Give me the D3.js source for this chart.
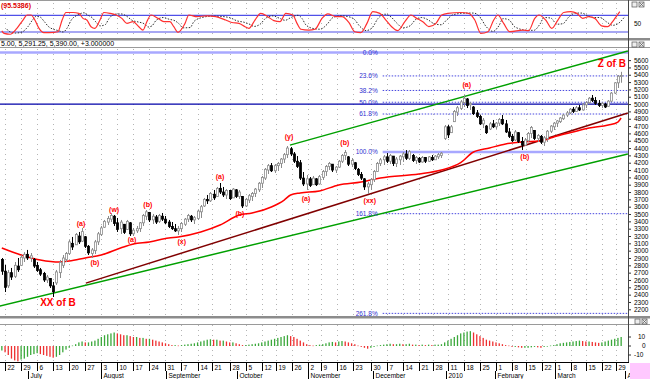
<!DOCTYPE html>
<html><head><meta charset="utf-8">
<script src="https://cdn.jsdelivr.net/npm/d3@7"></script>
<style>body{margin:0;background:#fff}svg{display:block}text{font-family:"Liberation Sans",Arial,sans-serif}</style>
</head><body><svg id="c" width="650" height="379"></svg>
<script>
// ---------------- DATA ----------------
const opens  = [2880,2720,2520,2700,2650,2790,2800,2900,2950,2900,2880,2800,2740,2690,2600,2620,2520,2560,2700,2800,2880,2960,3100,3080,3200,3130,3190,3060,2960,3000,3120,3220,3320,3390,3430,3470,3380,3300,3360,3290,3380,3230,3270,3300,3380,3470,3520,3420,3460,3400,3470,3430,3390,3330,3300,3270,3300,3360,3430,3470,3420,3440,3530,3610,3700,3680,3770,3740,3850,3800,3760,3820,3720,3830,3740,3740,3610,3690,3740,3780,3830,3920,3990,4100,4160,4090,4160,4190,4250,4310,4390,4320,4220,4200,3990,3910,3980,3900,3980,3910,4000,4080,4150,4180,4100,4140,4220,4300,4280,4180,4200,4110,4040,3980,3870,3900,3970,4080,4190,4240,4280,4220,4290,4190,4240,4280,4320,4260,4300,4230,4260,4210,4270,4220,4270,4240,4280,4300,4530,4690,4610,4760,4890,4940,5020,5070,4990,4960,4880,4830,4730,4700,4660,4730,4690,4740,4790,4730,4620,4560,4510,4610,4490,4440,4500,4600,4640,4530,4560,4480,4530,4630,4690,4740,4760,4800,4850,4880,4930,4900,4950,4920,4990,5020,5080,5050,5010,4980,5000,4970,5040,5150,5290,5380];
const highs  = [2900,2805,2737,2764,2845,2900,2940,2980,3010,2968,2900,2845,2764,2710,2668,2627,2573,2737,2873,2941,2982,3146,3187,3241,3255,3309,3200,3077,3036,3146,3255,3337,3419,3473,3514,3487,3446,3419,3364,3419,3391,3309,3337,3391,3501,3555,3528,3501,3487,3501,3514,3473,3419,3391,3364,3337,3391,3446,3501,3487,3473,3555,3623,3719,3760,3800,3828,3869,3923,3869,3841,3828,3855,3841,3828,3746,3719,3773,3800,3855,3937,4019,4128,4182,4196,4182,4210,4264,4332,4428,4414,4346,4291,4237,4073,4032,4005,4019,3991,4032,4100,4169,4210,4182,4155,4237,4319,4373,4291,4264,4210,4128,4073,3991,3937,3991,4100,4210,4264,4305,4332,4319,4291,4278,4305,4346,4373,4373,4319,4291,4278,4291,4278,4291,4305,4305,4332,4346,4714,4714,4714,4919,4974,5055,5124,5083,5028,4974,4919,4851,4810,4714,4755,4783,4755,4810,4851,4783,4673,4592,4646,4619,4551,4537,4619,4701,4646,4592,4578,4564,4646,4714,4755,4783,4823,4864,4905,4946,4960,4974,4987,5014,5042,5096,5124,5096,5055,5028,5014,5055,5164,5301,5396,5440];
const lows   = [2670,2436,2491,2600,2627,2710,2790,2845,2873,2845,2764,2710,2655,2573,2559,2491,2368,2532,2627,2764,2845,2941,3009,3077,3091,3118,3036,2941,2900,2954,3077,3200,3309,3350,3391,3337,3255,3228,3228,3282,3200,3200,3241,3255,3337,3419,3391,3364,3364,3378,3405,3364,3309,3282,3255,3214,3255,3337,3391,3391,3364,3419,3446,3596,3637,3664,3691,3732,3773,3732,3705,3691,3719,3719,3705,3582,3596,3650,3678,3732,3800,3855,3964,4046,4073,4060,4087,4128,4196,4264,4291,4196,4128,3964,3882,3828,3869,3896,3882,3900,3964,4019,4100,4073,4060,4128,4196,4237,4155,4141,4100,4019,3964,3828,3773,3828,3937,4073,4155,4169,4196,4182,4155,4141,4169,4210,4237,4237,4210,4182,4196,4200,4196,4210,4223,4237,4250,4264,4510,4537,4605,4755,4837,4919,4960,4946,4919,4851,4810,4714,4673,4592,4646,4673,4660,4701,4714,4605,4537,4483,4496,4469,4373,4428,4483,4537,4510,4483,4455,4428,4483,4605,4646,4687,4742,4783,4823,4864,4878,4892,4905,4910,4946,5000,5028,4990,4960,4946,4946,4960,5028,5137,5219,5291];
const closes = [2720,2500,2700,2640,2800,2740,2910,2950,2900,2930,2790,2730,2680,2600,2640,2520,2440,2710,2840,2900,2960,3120,3050,3220,3120,3260,3060,2970,3010,3120,3230,3310,3400,3440,3480,3370,3290,3390,3250,3400,3230,3280,3300,3380,3480,3530,3420,3470,3390,3480,3430,3380,3330,3300,3270,3300,3370,3430,3480,3420,3450,3540,3600,3700,3680,3780,3720,3850,3800,3760,3820,3710,3840,3740,3800,3610,3700,3750,3780,3840,3920,4000,4110,4160,4090,4160,4190,4250,4310,4400,4320,4220,4150,3990,3910,3980,3890,3990,3900,4010,4080,4150,4190,4100,4140,4220,4300,4340,4180,4230,4120,4040,3990,3870,3910,3970,4080,4190,4240,4280,4220,4300,4190,4250,4290,4320,4260,4350,4230,4270,4210,4270,4220,4280,4240,4290,4310,4330,4690,4580,4690,4900,4950,5030,5080,4980,5010,4870,4830,4730,4780,4610,4730,4690,4740,4790,4730,4620,4560,4500,4620,4490,4440,4510,4600,4680,4530,4570,4480,4540,4630,4700,4740,4770,4810,4850,4880,4930,4900,4950,4920,4990,5020,5080,5050,5010,4980,5010,4960,5040,5150,5290,5380,5390];

const maIdx = [0,6,12,18,21,26,31,37,41,46,52,55,62,68,74,78,84,88,90,93,99,105,112,115,118,130,137,143,147,152,157,162,168,171,173,178,183,189,192,193];
const maVal = [3036,2941,2873,2845,2859,2900,2941,3036,3091,3118,3173,3187,3255,3350,3487,3514,3596,3691,3760,3787,3814,3896,3937,3964,3991,4046,4100,4200,4346,4401,4455,4483,4496,4537,4564,4619,4673,4714,4755,4810];

const macdHist = [-5,-7,-10,-14,-16,-17,-15,-14,-12,-10,-9,-8,-9,-10,-11,-12,-13,-12,-10,-7,-4,-2,0.5,2,4,5,4,4,5,6,8,10,12,13,14,15,14,13,12,12,11,10,10,9,9,8,8,7,6,5,4,3,2,1,1,0.5,1,1.5,2,2.5,3,4,5,6,7,7.5,7,7,6,6,5,4,4,3,2,1,1,1.5,2,2.5,3,4,5,6,7,8,9,10,11,12,11,10,8,6,4,2,1,0.5,1,1.5,2,3,4,4.5,4,5,5.5,5,4,3,2,0.5,-1,-2,-3,-2,-1,0.5,1,1.5,2,2.5,2,2,2.5,2,2,2.5,1.5,1.5,1,1.5,1,1.5,1,1.5,1.5,2,4,6,8,10,12,14,15,16,16.5,15,13,11,9,7,6,5,4,3,2,1,0.5,-1,-1,-1.5,-2,-2,-2,-1.5,-1,-1.5,-2,-1,-0.5,0.5,1,2,3,3.5,4,4.5,5,5.5,6,5.5,5,5,4.5,4,3.5,4,5,6,7,8,9,10];

const stochIdx = [0,0.7,2.6,4.7,6.6,7.9,9.1,10.3,11.6,13.1,16.3,17.5,18.8,20,22.2,24,25.3,26.5,27.8,29,30.6,31.8,33.7,35.6,37.4,39,40.9,42.7,44,45.2,46.5,48.7,50.5,52.4,53.6,54.9,57.1,58.3,60.8,63.9,66.7,69.8,71.7,73.9,75.8,77,78.9,80.7,82.9,84.8,86.7,88.5,90.7,92,93.2,95.7,97.6,99.8,101.6,104.1,106,108.2,110,111.9,113.8,115.6,117.8,119.7,121.5,123.4,125.6,127.5,129.3,131.2,133.1,135.3,137.1,139,143,145.5,147.4,149.3,151.5,153.3,154.6,156.4,158.3,162.4,164.2,166.1,167.4,169.5,171.4,173.3,175.1,177.3,179.2,181,182.9,184.8,186.9,188.8,190.7,192.6];
const stochK = [24,15,12,33,63,81,81,63,33,18,19,21,63,90,90,87,69,63,39,33,63,90,87,81,69,51,57,39,27,57,81,69,57,57,39,19,51,81,75,78,75,63,54,51,39,33,63,87,75,61,57,87,81,51,30,27,30,69,85,75,75,54,21,18,51,93,87,63,39,25,57,81,69,57,39,51,81,87,90,87,63,15,21,63,81,51,21,27,25,69,81,63,33,63,90,93,87,69,75,69,42,39,63,93];
const stochD = [30,22,16,20,40,62,76,74,58,38,24,20,35,62,82,89,80,72,55,42,46,68,84,85,76,62,56,50,38,42,62,72,66,60,50,35,36,58,72,77,76,70,60,55,47,40,48,70,78,70,62,72,80,68,45,32,30,48,72,78,76,66,40,25,35,68,84,74,52,35,42,66,72,64,50,46,64,82,88,88,74,40,22,42,68,64,38,26,26,48,72,70,48,50,74,88,88,78,72,72,56,44,52,76];

const priceTicks = [2200,2300,2400,2500,2600,2700,2800,2900,3000,3100,3200,3300,3400,3500,3600,3700,3800,3900,4000,4100,4200,4300,4400,4500,4600,4700,4800,4900,5000,5100,5200,5300,5400,5500,5600];
const dateTickIdx = [1,6,11,16,21,26,31,36,41,46,51,56,61,65.5,71,76,81,85.5,90.5,95.5,99.5,104.5,109.5,115,120,125,130,134.5,139,144,149,154,159,163.5,168.5,172.5,177.5,182,187,191.5];
const dateTickLbl = ["22","29","6","13","20","27","3","10","17","24","31","7","14","21","28","5","12","19","26","2","9","16","23","30","7","14","21","28","11","18","25","1","8","15","22","1","8","15","22","29"];
const monthIdx = [8.2,30.9,51.1,73.3,95.4,115.6,138.5,153.6,172.3,194.1];
const monthLbl = ["July","August","September","October","November","December","2010","February","March","A"];

const fibPct = [0,23.6,38.2,50,61.8,100,161.8,261.8];
const fibLbl = ["0.0%","23.6%","38.2%","50.0%","61.8%","100.0%","161.8%","261.8%"];
const fibTop = 5705, fibBottom = 4345, fibStartIdx = 118.7;

const trendX1 = [89.8,-0.6,26.2], trendP1 = [4440,2245,2557];
const trendX2 = [195.1,195.1,195.1], trendP2 = [5725,4318,4878];
const trendColor = ["#00a000","#00a000","#800000"];
const hLevel = 5000;

const waveText = ["XX of B","(a)","(b)","(w)","(a)","(b)","(x)","(a)","(b)","(y)","(a)","(b)","(xx)","(a)","(b)","Z of B"];
const waveIdx  = [17.5,24.7,29,35,40.6,45.5,56.1,68,74.2,89.5,94.8,106.9,114.7,144.9,163,190.1];
const wavePrice= [2287,3364,2832,3555,3146,3623,3118,4005,3501,4551,3705,4469,3678,5260,4278,5560];

// ---------------- LAYOUT ----------------
const svg = d3.select("#c");
const AX = 628;
const P1 = {t:1, b:38}, P2 = {t:48, b:316}, P3 = {t:325, b:362};
const x  = d3.scaleLinear().domain([0,193]).range([1.8,621.1]);
const y  = d3.scaleLinear().domain([2200,5600]).range([309.3,60.1]);
const ys = d3.scaleLinear().domain([20,80]).range([32,15.3]);
const ym = d3.scaleLinear().domain([-10,10]).range([355,337]);

svg.append("rect").attr("width",650).attr("height",379).attr("fill","#fff");

const defs = svg.append("defs");
defs.append("clipPath").attr("id","cm").append("rect").attr("x",0).attr("y",P2.t).attr("width",AX).attr("height",P2.b-P2.t);
defs.append("clipPath").attr("id","cs").append("rect").attr("x",0).attr("y",P1.t).attr("width",AX).attr("height",P1.b-P1.t);

// vertical dotted gridlines
const grid = svg.append("g").attr("stroke","#b4b4b4").attr("stroke-dasharray","1,4");
[[P1.t+2,P1.b],[P2.t+1,P2.b],[P3.t,P3.b]].forEach(([a,b])=>{
  grid.selectAll(null).data(dateTickIdx).join("line")
    .attr("x1",d=>Math.round(x(d))+0.5).attr("x2",d=>Math.round(x(d))+0.5)
    .attr("y1",a).attr("y2",b);
});

// panel separators
const sep = svg.append("g");
sep.append("rect").attr("x",0).attr("y",38).attr("width",650).attr("height",2.5).attr("fill","#8c8c8c");
sep.append("line").attr("x1",0).attr("x2",650).attr("y1",47.5).attr("y2",47.5).attr("stroke","#9a9a9a");
sep.append("rect").attr("x",0).attr("y",316).attr("width",650).attr("height",2.5).attr("fill","#8c8c8c");
sep.append("line").attr("x1",0).attr("x2",650).attr("y1",324.5).attr("y2",324.5).attr("stroke","#9a9a9a");
sep.append("line").attr("x1",0).attr("x2",650).attr("y1",0.5).attr("y2",0.5).attr("stroke","#9a9a9a");

// ---------- stochastic panel ----------
const sp = svg.append("g").attr("clip-path","url(#cs)");
[80,20].forEach(v=>sp.append("line").attr("x1",0).attr("x2",AX).attr("y1",ys(v)).attr("y2",ys(v)).attr("stroke","#5050e8").attr("stroke-width",1.2));
sp.append("path").datum(stochIdx.map((d,i)=>[d,stochD[i]]))
  .attr("d",d3.line().x(d=>x(d[0]+1.6)).y(d=>ys(d[1])).curve(d3.curveMonotoneX))
  .attr("fill","none").attr("stroke","#303030").attr("stroke-width",1).attr("stroke-dasharray","1.5,1.5");
sp.append("path").datum(stochIdx.map((d,i)=>[d,stochK[i]]))
  .attr("d",d3.line().x(d=>x(d[0])).y(d=>ys(d[1])).curve(d3.curveMonotoneX))
  .attr("fill","none").attr("stroke","#ff3030").attr("stroke-width",1.2);
svg.append("text").attr("x",1).attr("y",8).attr("font-size",7).attr("font-weight","bold").attr("fill","#e00000").text("(95.5386)");
svg.append("text").attr("x",634).attr("y",ys(50)+2.5).attr("font-size",6.5).text("50");

// ---------- main header ----------
svg.append("text").attr("x",1).attr("y",46).attr("font-size",7).attr("fill","#000").text("5.00, 5,291.25, 5,390.00, +3.000000");

// ---------- main panel ----------
const mp = svg.append("g").attr("clip-path","url(#cm)");
// fib levels
fibPct.forEach((p,i)=>{
  const v = fibTop - p/100*(fibTop-fibBottom);
  const solid = (p===0||p===100);
  mp.append("line").attr("x1",p===0?0:x(fibStartIdx)).attr("x2",AX)
    .attr("y1",y(v)).attr("y2",y(v))
    .attr("stroke",solid?"#a8a8ff":"#4848e0").attr("stroke-width",solid?2.5:1)
    .attr("stroke-dasharray",solid?null:"1.5,1.5");
  svg.append("text").attr("x",x(fibStartIdx)-5).attr("y",y(v)+2.3).attr("text-anchor","end")
    .attr("font-size",6.5).attr("fill","#3030d0").text(fibLbl[i]);
});
// 5000 level
mp.append("line").attr("x1",0).attr("x2",AX).attr("y1",y(hLevel)).attr("y2",y(hLevel)).attr("stroke","#0000a8").attr("stroke-width",1.2);
// trend lines
trendX1.forEach((d,i)=>{
  mp.append("line").attr("x1",x(d)).attr("y1",y(trendP1[i])).attr("x2",x(trendX2[i])).attr("y2",y(trendP2[i]))
    .attr("stroke",trendColor[i]).attr("stroke-width",1.5);
});
// moving average
mp.append("path").datum(maIdx.map((d,i)=>[d,maVal[i]]))
  .attr("d",d3.line().x(d=>x(d[0])).y(d=>y(d[1])).curve(d3.curveMonotoneX))
  .attr("fill","none").attr("stroke","#ff0000").attr("stroke-width",1.5);
// candles
const bars = d3.range(opens.length);
const cg = mp.append("g");
cg.selectAll("line").data(bars).join("line")
  .attr("x1",i=>Math.round(x(i))+0.5).attr("x2",i=>Math.round(x(i))+0.5)
  .attr("y1",i=>y(highs[i])).attr("y2",i=>y(lows[i]))
  .attr("stroke",i=>closes[i]>=opens[i]?"#8a8a8a":"#000").attr("stroke-width",1);
cg.selectAll("rect").data(bars).join("rect")
  .attr("x",i=>Math.round(x(i))-0.5).attr("width",2)
  .attr("y",i=>y(Math.max(opens[i],closes[i])))
  .attr("height",i=>Math.max(1,Math.abs(y(opens[i])-y(closes[i]))))
  .attr("fill",i=>closes[i]>=opens[i]?"#fff":"#000")
  .attr("stroke",i=>closes[i]>=opens[i]?"#8a8a8a":"#000").attr("stroke-width",0.8);
// wave labels
waveText.forEach((t,i)=>{
  const big = t.length>4;
  svg.append("text").attr("x",x(waveIdx[i])).attr("y",y(wavePrice[i])).attr("dy","0.35em")
    .attr("text-anchor","middle").attr("font-size",big?10:7).attr("font-weight","bold")
    .attr("fill","#ff0000").text(t);
});

// right axis (main)
const ra = svg.append("g").attr("transform",`translate(${AX},0)`)
  .call(d3.axisRight(y).tickValues(priceTicks).tickSize(3).tickPadding(3).tickFormat(d3.format("d")));
ra.select(".domain").remove();
ra.selectAll("text").attr("font-size",6.5).attr("font-family","Liberation Sans, Arial, sans-serif");
ra.selectAll("line").attr("stroke","#333");
svg.append("line").attr("x1",AX+0.5).attr("x2",AX+0.5).attr("y1",0).attr("y2",362).attr("stroke","#444");

// ---------- MACD histogram ----------
const hp = svg.append("g");
hp.selectAll("rect").data(bars).join("rect")
  .attr("x",i=>x(i)-0.6).attr("width",1.3)
  .attr("y",i=>Math.min(ym(0),ym(macdHist[i])))
  .attr("height",i=>Math.max(0.6,Math.abs(ym(macdHist[i])-ym(0))))
  .attr("fill",i=>(i===0||macdHist[i]>=macdHist[i-1])?"#3aa83a":"#ee3030");
[10,0,-10].forEach(v=>{
  svg.append("text").attr("x",v<0?634:(v===0?642:638)).attr("y",ym(v)+2.3).attr("font-size",6.5).text(v);
  svg.append("line").attr("x1",AX).attr("x2",AX+3).attr("y1",ym(v)).attr("y2",ym(v)).attr("stroke","#333");
});

// ---------- date axis ----------
const da = svg.append("g");
da.append("line").attr("x1",0).attr("x2",AX+1).attr("y1",362.5).attr("y2",362.5).attr("stroke","#000");
dateTickIdx.forEach((d,i)=>{
  const xx = Math.round(x(d))+0.5;
  da.append("line").attr("x1",xx).attr("x2",xx).attr("y1",362).attr("y2",371).attr("stroke","#000");
  da.append("text").attr("x",xx+2).attr("y",369.5).attr("font-size",6.5).text(dateTickLbl[i]);
});
monthIdx.forEach((d,i)=>{
  const xx = Math.round(x(d))+0.5;
  da.append("line").attr("x1",xx).attr("x2",xx).attr("y1",371).attr("y2",379).attr("stroke","#000");
  da.append("text").attr("x",xx+2).attr("y",377.5).attr("font-size",6.5).text(monthLbl[i]);
});
svg.append("rect").attr("x",630).attr("y",363).attr("width",20).attr("height",16).attr("fill","#ffc8ff");

// small window icons
[[632,2],[632,42],[635,319]].forEach(([ix,iy])=>{
  const g = svg.append("g").attr("stroke","#555").attr("fill","#eee").attr("stroke-width",0.7);
  g.append("rect").attr("x",ix).attr("y",iy).attr("width",5).attr("height",5);
  g.append("rect").attr("x",ix+7).attr("y",iy).attr("width",5).attr("height",5);
  g.append("path").attr("d",`M${ix+7.5},${iy+0.5}L${ix+11.5},${iy+4.5}M${ix+11.5},${iy+0.5}L${ix+7.5},${iy+4.5}`).attr("fill","none");
});
</script></body></html>
